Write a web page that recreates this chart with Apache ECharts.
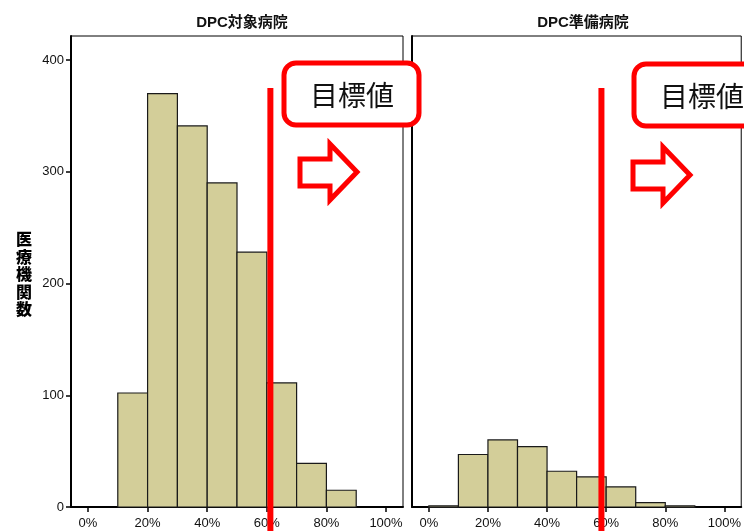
<!DOCTYPE html>
<html><head><meta charset="utf-8">
<script src="https://cdn.jsdelivr.net/npm/echarts@6/dist/echarts.min.js"></script>
<style>html,body{margin:0;padding:0;background:#fff}#c{width:744px;height:531px}</style>
</head><body><div id="c"></div>
<script>
const binStarts = [0,10,20,30,40,50,60,70,80,90];
const binWidth = 10;
const countsTarget = [0,102,370,341,290,228,111,39,15,0];
const countsPrep   = [1,47,60,54,32,27,18,4,1,0];
const panelTitles = ['DPC対象病院','DPC準備病院'];
const yAxisName = '医療機関数';
const xTickValues = [0,20,40,60,80,100];
const yTickValues = [0,100,200,300,400];
const targetLines = [61.2, 58.4];
const targetLabel = '目標値';

const chart = echarts.init(document.getElementById('c'));
const fillColor = '#D3CE99';

function barData(counts){ return binStarts.map((s,i)=>[s, s+binWidth, counts[i]]); }
function barRender(params, api){
  const p0 = api.coord([api.value(0), api.value(2)]);
  const p1 = api.coord([api.value(1), 0]);
  if (api.value(2) <= 0) return null;
  return {type:'rect', shape:{x:p0[0], y:p0[1], width:p1[0]-p0[0], height:Math.max(p1[1]-p0[1],1.5)},
    style:{fill:fillColor, stroke:'#1a1a1a', lineWidth:1.2}};
}
function lineRender(params, api){
  const a = api.coord([api.value(0), 375]);
  const b = api.coord([api.value(0), -25]);
  return {type:'line', shape:{x1:a[0], y1:a[1], x2:b[0], y2:b[1]}, style:{stroke:'#ff0000', lineWidth:6}};
}

const grids = [
  {left:71, top:36, width:332, height:471, show:true, borderColor:'#000', borderWidth:1},
  {left:412, top:36, width:332, height:471, show:true, borderColor:'#000', borderWidth:1}
];
const labelFont = {color:'#111', fontSize:13, fontFamily:'Arial, "Liberation Sans", sans-serif'};
const xAxes = [0,1].map(i=>({type:'value', gridIndex:i, min:-5.7, max:105.7,
  axisLine:{show:true, onZero:false, lineStyle:{color:'#000', width:2}},
  axisTick:{show:true, length:5, customValues:xTickValues, lineStyle:{color:'#000', width:1.5}},
  axisLabel:Object.assign({show:true, customValues:xTickValues, formatter:v=>v+'%', margin:10}, labelFont),
  splitLine:{show:false}}));
const yAxes = [0,1].map(i=>({type:'value', gridIndex:i, min:0, max:421.5,
  axisLine:{show:true, onZero:false, lineStyle:{color:'#000', width:2}},
  axisTick:{show:i===0, length:5, customValues:yTickValues, lineStyle:{color:'#000', width:1.5}},
  axisLabel:Object.assign({show:i===0, customValues:yTickValues, margin:7}, labelFont),
  splitLine:{show:false}}));

function arrow(x, y){
  return {type:'polygon', shape:{points:[[x,y+15],[x+30,y+15],[x+30,y],[x+57,y+28],[x+30,y+56],[x+30,y+42],[x,y+42]]},
    style:{fill:'#fff', stroke:'#ff0000', lineWidth:5, lineJoin:'miter'}, z:10};
}
function labelBox(x, y){
  return [
    {type:'rect', shape:{x:x, y:y, width:135, height:62, r:12}, style:{fill:'#fff', stroke:'#ff0000', lineWidth:5}, z:10},
    {type:'text', x:x+68, y:y+32, style:{text:targetLabel, fill:'#111', font:'28px "Noto Sans CJK JP", sans-serif', align:'center', verticalAlign:'middle'}, z:11}
  ];
}

chart.setOption({
  animation:false,
  grid: grids,
  xAxis: xAxes,
  yAxis: yAxes,
  title: [
    {text:panelTitles[0], left:237, top:10, textAlign:'center', textStyle:{fontSize:15, fontWeight:'bold', color:'#111', fontFamily:'Arial, "Noto Sans CJK JP", sans-serif'}},
    {text:panelTitles[1], left:578, top:10, textAlign:'center', textStyle:{fontSize:15, fontWeight:'bold', color:'#111', fontFamily:'Arial, "Noto Sans CJK JP", sans-serif'}}
  ],
  graphic: [
    {type:'text', x:24, y:274, style:{text:yAxisName.split('').join('\n'), fill:'#000', font:'900 16px "Noto Sans CJK JP", sans-serif', align:'center', verticalAlign:'middle', lineHeight:17.5}},
    ...labelBox(284, 63),
    ...labelBox(634, 64),
    arrow(300, 144),
    arrow(633, 147)
  ],
  series: [
    {type:'custom', xAxisIndex:0, yAxisIndex:0, data:barData(countsTarget), renderItem:barRender, encode:{x:[0,1], y:2}},
    {type:'custom', xAxisIndex:1, yAxisIndex:1, data:barData(countsPrep), renderItem:barRender, encode:{x:[0,1], y:2}},
    {type:'custom', xAxisIndex:0, yAxisIndex:0, clip:false, z:5, data:[[targetLines[0]]], renderItem:lineRender},
    {type:'custom', xAxisIndex:1, yAxisIndex:1, clip:false, z:5, data:[[targetLines[1]]], renderItem:lineRender}
  ]
});
</script></body></html>
